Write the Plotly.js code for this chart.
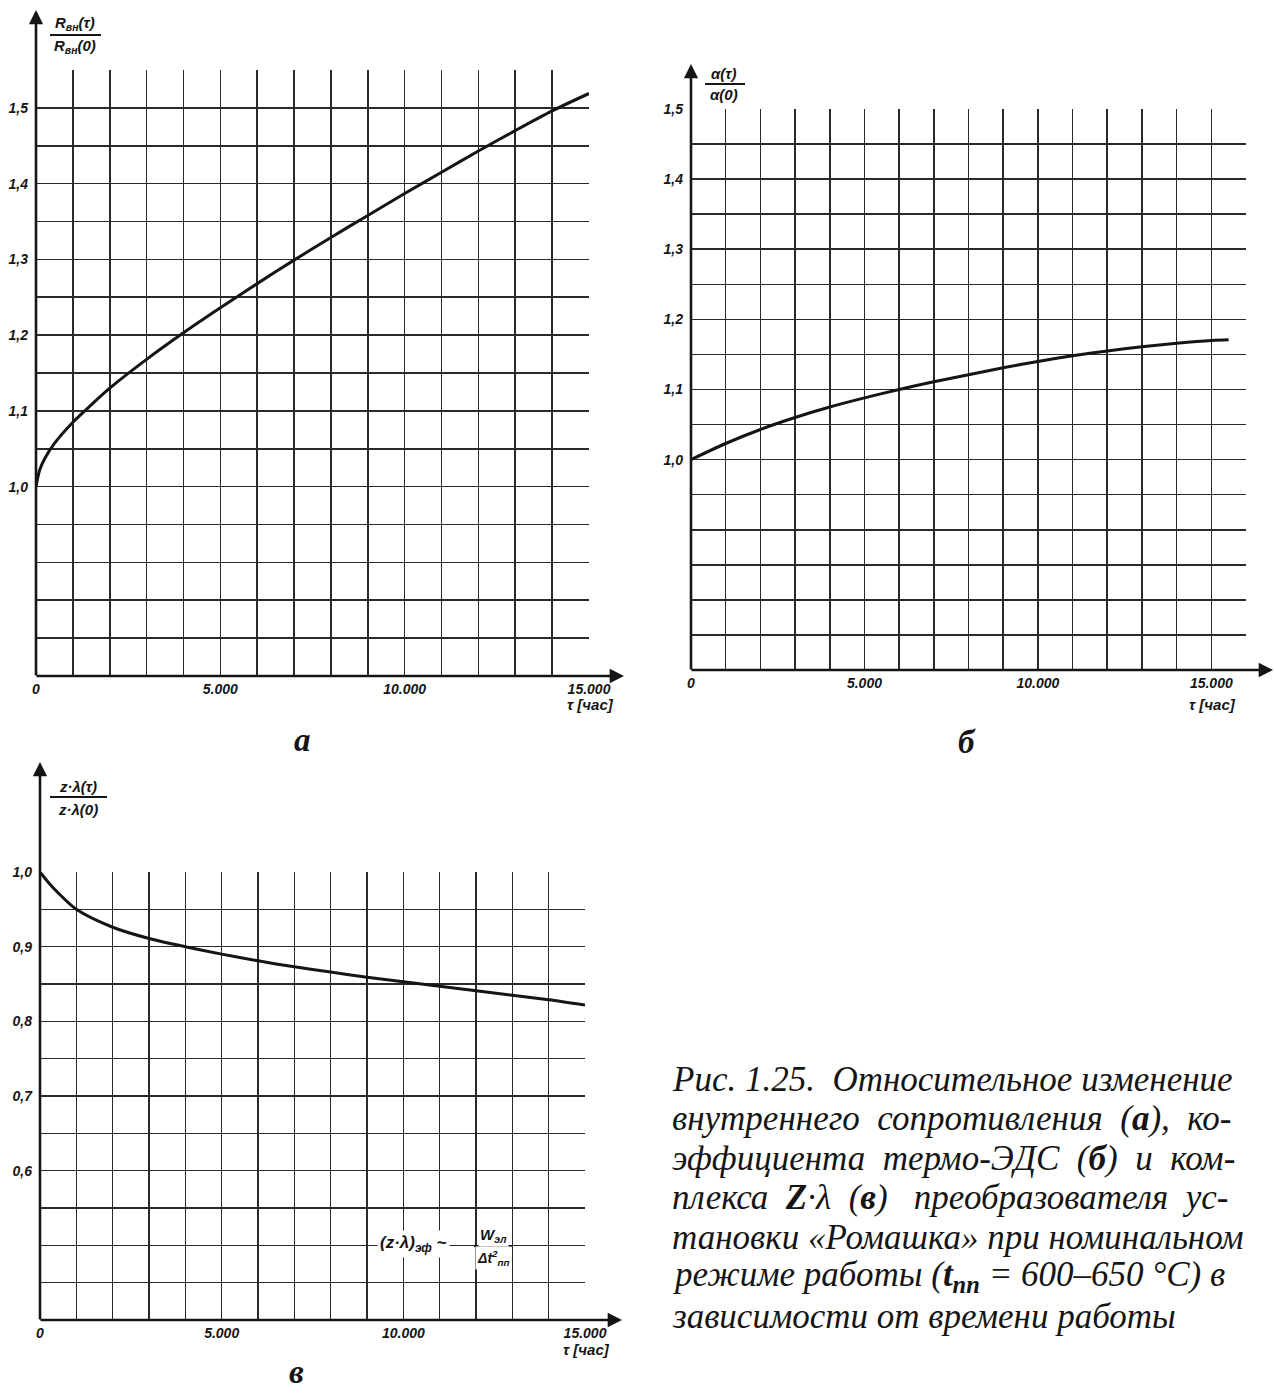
<!DOCTYPE html>
<html>
<head>
<meta charset="utf-8">
<script src="https://cdn.plot.ly/plotly-3.0.1.min.js"></script>
<style>
  html, body { margin: 0; padding: 0; background: #fff; }
  #chart { width: 1274px; height: 1394px; }
</style>
</head>
<body>
<div id="chart"></div>
<script>
// ---------------- DATA ----------------
// Panel а: relative internal resistance R_вн(τ)/R_вн(0)
const tauA   = [0, 100, 250, 500, 1000, 1500, 2000, 3000, 4000, 5000, 6000, 7000, 8000, 9000, 10000, 11000, 12000, 13000, 14000, 15000];
const ratioA = [1.000, 1.022, 1.038, 1.057, 1.085, 1.108, 1.130, 1.168, 1.203, 1.236, 1.268, 1.299, 1.329, 1.358, 1.387, 1.415, 1.443, 1.470, 1.496, 1.519];

// Panel б: relative Seebeck coefficient α(τ)/α(0)
const tauB   = [0, 1000, 2000, 3000, 4000, 5000, 6000, 7000, 8000, 9000, 10000, 11000, 12000, 13000, 14000, 15000, 15500];
const ratioB = [1.000, 1.023, 1.043, 1.060, 1.075, 1.088, 1.100, 1.111, 1.121, 1.131, 1.140, 1.148, 1.155, 1.161, 1.166, 1.170, 1.171];

// Panel в: relative figure of merit z·λ(τ)/z·λ(0)
const tauC   = [0, 250, 500, 1000, 2000, 3000, 4000, 5000, 6000, 7000, 8000, 9000, 10000, 11000, 12000, 13000, 14000, 15000];
const ratioC = [1.000, 0.985, 0.972, 0.950, 0.926, 0.911, 0.900, 0.890, 0.881, 0.873, 0.866, 0.859, 0.853, 0.847, 0.841, 0.835, 0.829, 0.822];

// Tick labels
const xTickVals = [0, 5000, 10000, 15000];
const xTickText = ['0', '5.000', '10.000', '15.000'];
const yTickValsAB = [1.0, 1.1, 1.2, 1.3, 1.4, 1.5];
const yTickTextAB = ['1,0', '1,1', '1,2', '1,3', '1,4', '1,5'];
const yTickValsC = [0.6, 0.7, 0.8, 0.9, 1.0];
const yTickTextC = ['0,6', '0,7', '0,8', '0,9', '1,0'];

const captionLines = [
  'Рис. 1.25.\u00a0 Относительное изменение',
  'внутреннего\u00a0 сопротивления\u00a0 (<b>а</b>),\u00a0 ко-',
  'эффициента\u00a0 термо-ЭДС\u00a0 (<b>б</b>)\u00a0 и\u00a0 ком-',
  'плекса\u00a0 <b>Z</b>·λ\u00a0 (<b>в</b>)\u00a0\u00a0 преобразователя\u00a0 ус-',
  'тановки «Ромашка» при номинальном',
  'режиме работы (<b>t</b><sub><b>пп</b></sub> = 600–650 °C) в',
  'зависимости от времени работы'
];

// ---------------- LAYOUT HELPERS ----------------
const W = 1274, H = 1394;
const fx = p => p / W;
const fy = p => 1 - p / H;
const INK = '#151515';
const GRID = '#2a2a2a';
const sans = '"Liberation Sans", Arial, sans-serif';
const serif = '"Liberation Serif", "Times New Roman", serif';

function gridTicks(start, end, step, labVals, labTexts) {
  const vals = [], text = [];
  const n = Math.round((end - start) / step);
  for (let i = 0; i <= n; i++) {
    const v = Math.round((start + i * step) * 1e6) / 1e6;
    vals.push(v);
    const k = labVals.findIndex(l => Math.abs(l - v) < 1e-9);
    text.push(k >= 0 ? labTexts[k] : '');
  }
  return { vals, text };
}

const tickFont = { family: sans, size: 14, color: INK, weight: 'bold', style: 'italic' };

function xAxis(domain, end, anchor) {
  const g = gridTicks(0, end, 1000, xTickVals, xTickText);
  return {
    domain, range: [0, end], anchor,
    tickmode: 'array', tickvals: g.vals, ticktext: g.text,
    showgrid: true, gridcolor: GRID, gridwidth: 1.6,
    zeroline: false, showline: false, ticks: '',
    tickfont: tickFont, ticklabelstandoff: 3, fixedrange: true
  };
}
function yAxis(domain, lo, hi, labVals, labTexts, anchor) {
  const g = gridTicks(lo, hi, 0.05, labVals, labTexts);
  return {
    domain, range: [lo, hi], anchor,
    tickmode: 'array', tickvals: g.vals, ticktext: g.text,
    showgrid: true, gridcolor: GRID, gridwidth: 1.6,
    zeroline: false, showline: false, ticks: '',
    tickfont: tickFont, ticklabelstandoff: 7, fixedrange: true
  };
}

// panel geometry (pixels)
const A = { x0: 36, x1: 589, y0: 676, y1: 70 };    // x 0..15000, y 0.75..1.55
const B = { x0: 691, x1: 1246, y0: 670, y1: 109 }; // x 0..16000, y 0.70..1.50
const C = { x0: 40, x1: 585, y0: 1320, y1: 872 };  // x 0..15000, y 0.40..1.00

const curveLine = { color: INK, width: 3, shape: 'spline', smoothing: 0.8 };
const traces = [
  { x: tauA, y: ratioA, xaxis: 'x', yaxis: 'y', mode: 'lines', line: curveLine, hoverinfo: 'skip' },
  { x: tauB, y: ratioB, xaxis: 'x2', yaxis: 'y2', mode: 'lines', line: curveLine, hoverinfo: 'skip' },
  { x: tauC, y: ratioC, xaxis: 'x3', yaxis: 'y3', mode: 'lines', line: curveLine, hoverinfo: 'skip' }
];

function arrow(tipX, tipY, tailX, tailY) {
  return {
    xref: 'paper', yref: 'paper', x: fx(tipX), y: fy(tipY),
    axref: 'pixel', ayref: 'pixel', ax: tailX - tipX, ay: tailY - tipY,
    text: '', showarrow: true, arrowhead: 2, arrowsize: 1.1, arrowwidth: 2.6,
    arrowcolor: INK, standoff: 0, startstandoff: 0
  };
}
function txt(x, y, text, size, opts) {
  return Object.assign({
    xref: 'paper', yref: 'paper', x: fx(x), y: fy(y), text,
    showarrow: false, xanchor: 'center', yanchor: 'middle',
    font: { family: sans, size, color: INK, weight: 'bold', style: 'italic' }
  }, opts || {});
}
function fracLine(x0, x1, y) {
  return { type: 'line', xref: 'paper', yref: 'paper', x0: fx(x0), x1: fx(x1), y0: fy(y), y1: fy(y),
           line: { color: INK, width: 1.8 } };
}
const letterFont = { family: serif, size: 33, color: INK, weight: 'bold', style: 'italic' };

const annotations = [
  // axis arrows
  arrow(A.x0, 10, A.x0, A.y0 + 1), arrow(624, A.y0, A.x0 - 1, A.y0),
  arrow(B.x0, 64, B.x0, B.y0 + 1), arrow(1273, B.y0, B.x0 - 1, B.y0),
  arrow(C.x0, 762, C.x0, C.y0 + 1), arrow(622, C.y0, C.x0 - 1, C.y0),
  // axis titles (fractions)
  txt(75, 24, 'R<sub>вн</sub>(τ)', 15), txt(75, 47, 'R<sub>вн</sub>(0)', 15),
  txt(724, 73, 'α(τ)', 15), txt(724, 95, 'α(0)', 15),
  txt(78, 786, 'z·λ(τ)', 15), txt(78, 809, 'z·λ(0)', 15),
  // x-axis units
  txt(616, 704, 'τ [час]', 15, { xanchor: 'right' }),
  txt(1238, 704, 'τ [час]', 15, { xanchor: 'right' }),
  txt(612, 1349, 'τ [час]', 15, { xanchor: 'right' }),
  // formula in panel в
  txt(450, 1244, '(z·λ)<sub>эф</sub> ~', 17, { xanchor: 'right', bgcolor: '#fff', borderpad: 2 }),
  txt(493, 1235, 'W<sub>эл</sub>', 15, { bgcolor: '#fff', borderpad: 1 }),
  txt(493, 1258, 'Δt<sup>2</sup><sub>пп</sub>', 14, { bgcolor: '#fff', borderpad: 1 }),
  // panel letters
  txt(302, 740, 'а', 33, { font: letterFont }),
  txt(967, 742, 'б', 33, { font: letterFont }),
  txt(296, 1372, 'в', 33, { font: letterFont })
];

captionLines.forEach((line, i) => {
  annotations.push({
    xref: 'paper', yref: 'paper', x: fx(670), y: fy(1079 + i * 39.5), text: line,
    showarrow: false, xanchor: 'left', yanchor: 'middle',
    font: { family: serif, size: 35, color: INK, style: 'italic' }
  });
});

const shapes = [
  fracLine(50, 101, 35),
  fracLine(705, 745, 84),
  fracLine(50, 107, 797),
  fracLine(474, 512, 1246)
];

const layout = {
  width: W, height: H,
  margin: { l: 0, r: 0, t: 0, b: 0, pad: 0 },
  paper_bgcolor: '#fff', plot_bgcolor: '#fff',
  showlegend: false,
  xaxis:  xAxis([fx(A.x0), fx(A.x1)], 15000, 'y'),
  yaxis:  yAxis([fy(A.y0), fy(A.y1)], 0.75, 1.55, yTickValsAB, yTickTextAB, 'x'),
  xaxis2: xAxis([fx(B.x0), fx(B.x1)], 16000, 'y2'),
  yaxis2: yAxis([fy(B.y0), fy(B.y1)], 0.70, 1.50, yTickValsAB, yTickTextAB, 'x2'),
  xaxis3: xAxis([fx(C.x0), fx(C.x1)], 15000, 'y3'),
  yaxis3: yAxis([fy(C.y0), fy(C.y1)], 0.40, 1.00, yTickValsC, yTickTextC, 'x3'),
  annotations, shapes
};

Plotly.newPlot('chart', traces, layout, { displayModeBar: false, staticPlot: true });
</script>
</body>
</html>
